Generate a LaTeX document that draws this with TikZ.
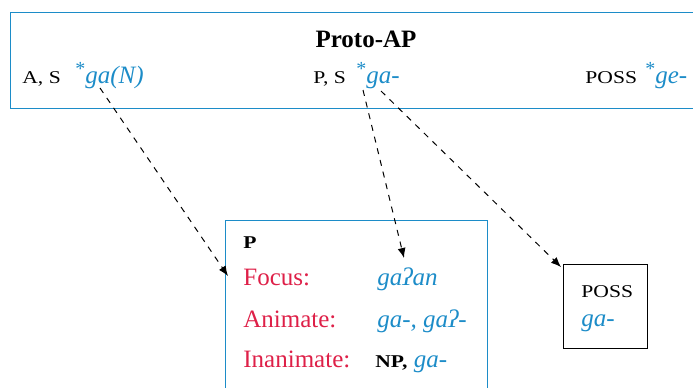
\documentclass[tikz,border=0pt]{standalone}
\usepackage{fontspec}
\setmainfont{Liberation Serif}
\newfontfamily\scfont[FakeStretch=1.2]{Liberation Serif}
\usepackage{tikz}
\usetikzlibrary{arrows.meta}
\usetikzlibrary{positioning}
\definecolor{apblue}{RGB}{28,140,200}
\definecolor{apred}{RGB}{222,32,72}
\newcommand{\glab}[1]{{\scfont\fontsize{9}{10}\selectfont #1}}
\newcommand{\form}[1]{{\color{apblue}\itshape #1}}
\newcommand{\rec}{{\color{apblue}\raisebox{0.3em}{\fontsize{10}{11}\selectfont *}}}
\tikzstyle{bluebox} = [rectangle, draw=apblue, line width=0.6pt, inner sep=0pt]
\tikzstyle{blackbox} = [rectangle, draw=black, line width=0.5pt, inner sep=0pt]
\tikzstyle{txt} = [inner sep=0pt, anchor=base west, font=\fontsize{12.5}{15}\selectfont]
\tikzstyle{role} = [txt, text=apred]
\tikzstyle{link} = [-{Latex[length=5pt,width=4pt]}, dashed, line width=0.5pt]

\begin{document}
\begin{tikzpicture}[x=0.5pt, y=-0.5pt]
\useasboundingbox (0,0) rectangle (693,387);

 % top box
 \node (proto) [bluebox, anchor=north west, minimum width=345pt, minimum height=48pt] at (10,12) {};
 \node (title) [txt, anchor=base, font=\fontsize{12.5}{15}\selectfont\bfseries] at (366,47) {Proto-AP};
 \node (as) [txt] at (22,83) {\glab{A, S}};
 \node (gaN) [txt] at (75,83) {\rec\form{ga(N)}};
 \node (ps) [txt] at (313,83) {\glab{P, S}};
 \node (ga) [txt] at (356,83) {\rec\form{ga-}};
 \node (poss) [txt] at (585,83) {\glab{POSS}};
 \node (ge) [txt] at (645,83) {\rec\form{ge-}};

 % P box
 \node (pbox) [bluebox, anchor=north west, minimum width=131pt, minimum height=100pt] at (225,220) {};
 \node (plab) [txt] at (243,248) {\glab{\bfseries P}};
 \node (focus) [role] at (243,285) {Focus:};
 \node (focusf) [txt] at (377,285) {\form{gaʔan}};
 \node (anim) [role] at (243,327) {Animate:};
 \node (animf) [txt] at (377,327) {\form{ga-, gaʔ-}};
 \node (inan) [role] at (243,367) {Inanimate:};
 \node (inanf) [txt] at (375,367) {\glab{\bfseries NP,} \form{ga-}};

 % POSS box
 \node (possbox) [blackbox, anchor=north west, minimum width=42pt, minimum height=42pt] at (563,264) {};
 \node (posslab) [txt] at (581,297) {\glab{POSS}};
 \node (possf) [txt] at (581,326) {\form{ga-}};

 \coordinate (s1) at (100,88);
 \coordinate (s2) at (363,90);
 \coordinate (s3) at (381,91);
 \coordinate (e1) at (228,276);
 \coordinate (e2) at (404,258);
 \coordinate (e3) at (561,267);
 \draw [link] (s1) -- (e1);
 \draw [link] (s2) -- (e2);
 \draw [link] (s3) -- (e3);
\end{tikzpicture}
\end{document}
